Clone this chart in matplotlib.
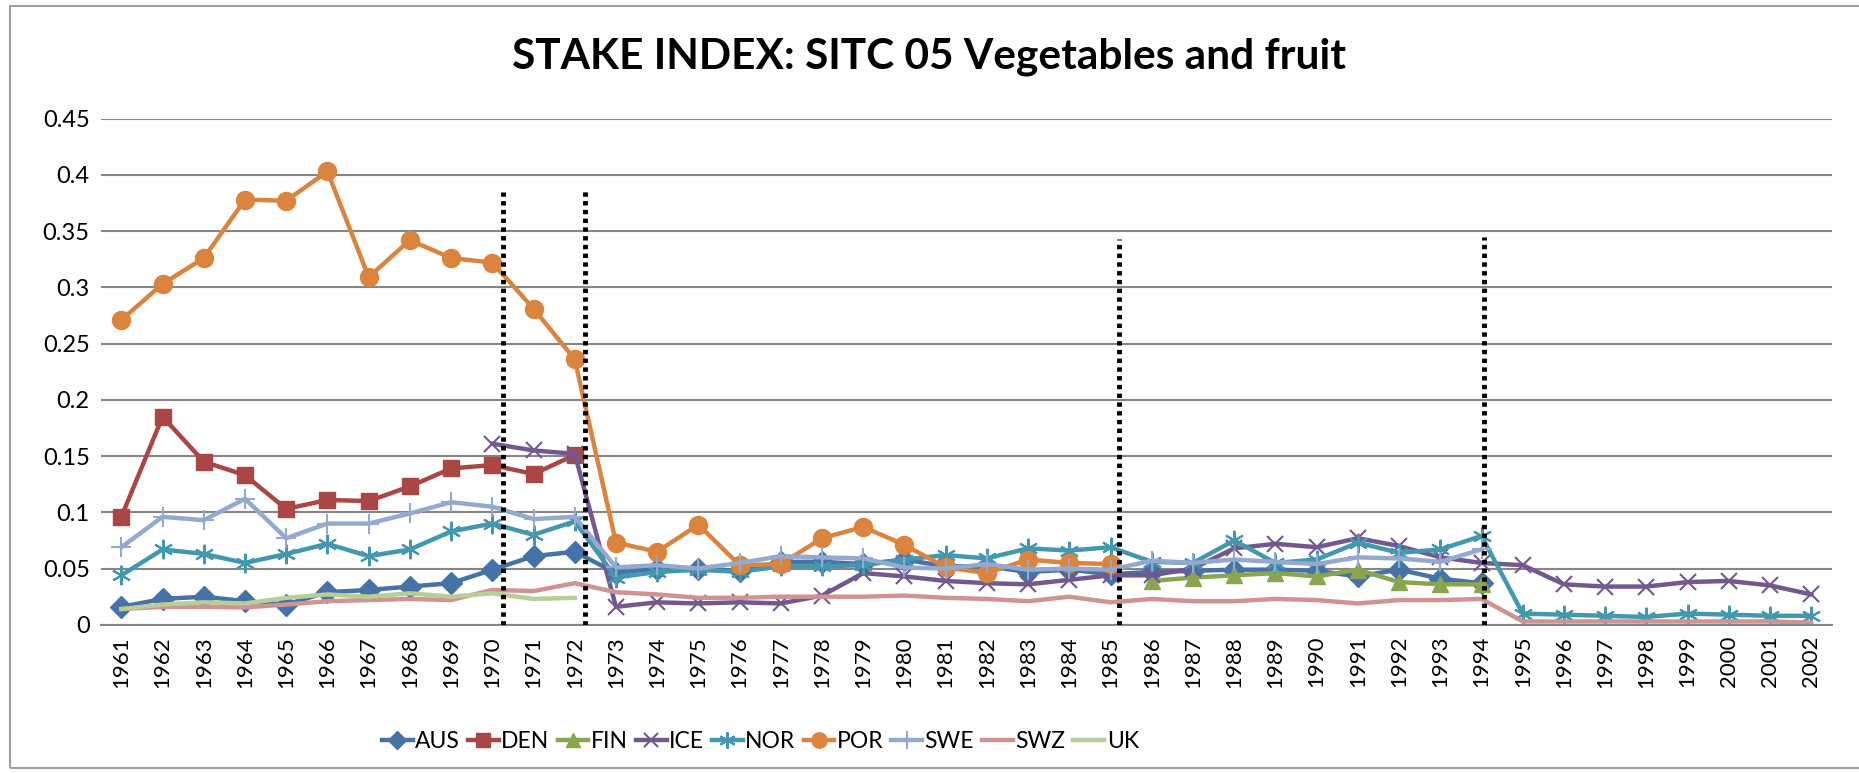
import numpy as np
import matplotlib
matplotlib.use("Agg")
import matplotlib.pyplot as plt
from matplotlib.patches import Rectangle

plt.rcParams['font.family'] = ['Lato', 'DejaVu Sans']

# --- datos ---
years = list(range(1961, 2003))

aus_start = 1961
aus = [0.016, 0.023, 0.025, 0.021, 0.018, 0.029, 0.031, 0.034, 0.037, 0.049,
       0.061, 0.065, 0.046, 0.050, 0.050, 0.048, 0.056, 0.056, 0.054, 0.058,
       0.052, 0.052, 0.047, 0.049, 0.045, 0.047, 0.048, 0.049, 0.049, 0.048,
       0.043, 0.049, 0.041, 0.037]

den_start = 1961
den = [0.096, 0.185, 0.145, 0.133, 0.103, 0.111, 0.110, 0.123, 0.139, 0.142,
       0.134, 0.151]

fin_start = 1986
fin = [0.039, 0.042, 0.044, 0.046, 0.043, 0.049, 0.038, 0.036, 0.036]

ice_start = 1970
ice = [0.161, 0.155, 0.152, 0.016, 0.020, 0.019, 0.020, 0.019, 0.026, 0.046,
       0.043, 0.039, 0.037, 0.036, 0.040, 0.044, 0.044, 0.050, 0.068, 0.072,
       0.069, 0.077, 0.070, 0.060, 0.055, 0.053, 0.036, 0.034, 0.034, 0.038,
       0.039, 0.035, 0.027]

nor_start = 1961
nor = [0.044, 0.067, 0.063, 0.055, 0.063, 0.072, 0.061, 0.067, 0.083, 0.090,
       0.080, 0.092, 0.042, 0.047, 0.049, 0.047, 0.052, 0.052, 0.053, 0.058,
       0.062, 0.059, 0.068, 0.066, 0.069, 0.056, 0.055, 0.075, 0.055, 0.058,
       0.073, 0.064, 0.067, 0.079, 0.010, 0.009, 0.008, 0.007, 0.010, 0.009,
       0.008, 0.008]

por_start = 1961
por = [0.271, 0.303, 0.326, 0.378, 0.377, 0.403, 0.309, 0.342, 0.326, 0.322,
       0.281, 0.236, 0.073, 0.065, 0.089, 0.053, 0.054, 0.077, 0.087, 0.071,
       0.051, 0.046, 0.058, 0.055, 0.054]

swe_start = 1961
swe = [0.069, 0.096, 0.093, 0.112, 0.077, 0.090, 0.090, 0.099, 0.109, 0.105,
       0.094, 0.096, 0.051, 0.053, 0.050, 0.055, 0.061, 0.060, 0.059, 0.051,
       0.050, 0.054, 0.049, 0.050, 0.049, 0.057, 0.055, 0.058, 0.056, 0.054,
       0.060, 0.059, 0.056, 0.067]

swz_start = 1961
swz = [0.014, 0.016, 0.016, 0.0155, 0.018, 0.021, 0.022, 0.023, 0.022, 0.031,
       0.030, 0.037, 0.029, 0.027, 0.024, 0.024, 0.025, 0.025, 0.025, 0.026,
       0.024, 0.023, 0.021, 0.025, 0.020, 0.023, 0.021, 0.021, 0.023, 0.022,
       0.019, 0.022, 0.022, 0.023, 0.003, 0.003, 0.003, 0.003, 0.003, 0.003,
       0.003, 0.002]

uk_start = 1961
uk = [0.014, 0.018, 0.020, 0.019, 0.024, 0.027, 0.025, 0.028, 0.025, 0.028,
      0.023, 0.024]

# lineas punteadas verticales (posicion en anos, altura)
vline_x = [1970.25, 1972.25, 1985.2, 1994.05]
vline_top = [0.385, 0.388, 0.343, 0.345]

# --- estilos ---
series = [
    ("AUS", aus_start, aus, "#4572A7", "D", 11, None),
    ("DEN", den_start, den, "#AA4643", "s", 12, None),
    ("FIN", fin_start, fin, "#89A54E", "^", 12, None),
    ("ICE", ice_start, ice, "#71588F", "x", 12, 1.5),
    ("NOR", nor_start, nor, "#4198AF", (6, 2, 0), 14, 1.5),
    ("POR", por_start, por, "#DB843D", "o", 13, None),
    ("SWE", swe_start, swe, "#93A9CF", "+", 15, 1.5),
    ("SWZ", swz_start, swz, "#D19392", None, 0, None),
    ("UK", uk_start, uk, "#B9CD96", None, 0, None),
]


def full_series(start, vals):
    out = [np.nan] * len(years)
    i0 = years.index(start)
    for k, v in enumerate(vals):
        out[i0 + k] = v
    return out


fig = plt.figure(figsize=(18.59, 7.73), dpi=100)
ax = fig.add_axes([0.0542, 0.1917, 0.9312, 0.6549])

for name, start, vals, col, mk, ms, mew in series:
    y = full_series(start, vals)
    kw = dict(color=col, lw=3.2, label=name, solid_joinstyle='round')
    if mk is not None:
        kw.update(marker=mk, markersize=ms, markerfacecolor=col,
                  markeredgecolor=col)
        if mew:
            kw['markeredgewidth'] = mew
    ax.plot(years, y, **kw)

for xv, top in zip(vline_x, vline_top):
    ax.plot([xv, xv], [0, top], color='black', lw=3.5, ls=(0, (0.9, 0.9)),
            zorder=10)

ax.set_xlim(1960.5, 2002.5)
ax.set_ylim(0, 0.45)
ax.set_yticks(np.arange(0, 0.451, 0.05))
ax.set_yticklabels(["0", "0.05", "0.1", "0.15", "0.2", "0.25", "0.3", "0.35",
                    "0.4", "0.45"], fontsize=17)
ax.set_xticks(years)
ax.set_xticklabels([str(y) for y in years], rotation=90, fontsize=16)
ax.tick_params(axis='both', length=0, pad=8)
ax.yaxis.grid(True, color='#868686', lw=1.5)
ax.set_axisbelow(True)
for s in ['top', 'right', 'left']:
    ax.spines[s].set_visible(False)
ax.spines['bottom'].set_color('#868686')
ax.spines['bottom'].set_linewidth(1.5)

fig.text(0.5, 0.926, "STAKE INDEX: SITC 05 Vegetables and fruit",
         ha='center', va='center', fontsize=30.5, fontweight='bold')

leg = fig.legend(loc='center', bbox_to_anchor=(0.409, 0.041), ncol=9,
                 frameon=False, fontsize=16.5, handlelength=1.35,
                 handletextpad=0.1, columnspacing=0.35, markerscale=0.85)

# borde del area del grafico
fig.patches.append(Rectangle((10 / 1859, 5 / 773), 1.0, 762 / 773,
                             transform=fig.transFigure, fill=False,
                             edgecolor='#A0A0A0', lw=1.5))

fig.savefig("out.png", dpi=100)
